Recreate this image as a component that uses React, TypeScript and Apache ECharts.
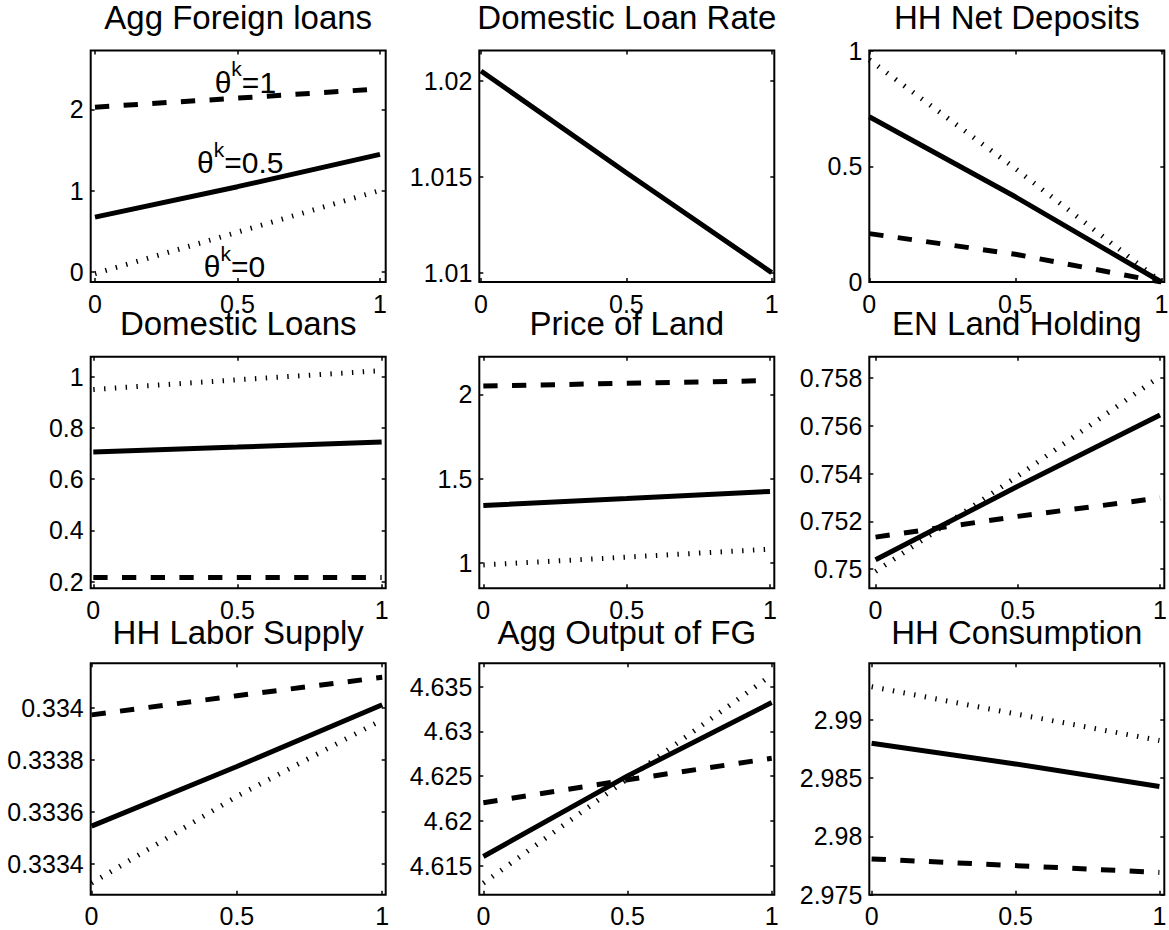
import React, { useEffect, useRef } from "react";
import * as echarts from "echarts";

const panelTitles = [
  "Agg Foreign loans",
  "Domestic Loan Rate",
  "HH Net Deposits",
  "Domestic Loans",
  "Price of Land",
  "EN Land Holding",
  "HH Labor Supply",
  "Agg Output of FG",
  "HH Consumption",
];

const xs = [0, 0.5, 1];
const xTicks = [0, 0.5, 1];

// dashed = theta^k = 1, solid = theta^k = 0.5, dotted = theta^k = 0
const foreignLoansDashed = [2.029, 2.14, 2.254];
const foreignLoansSolid = [0.676, 1.05, 1.447];
const foreignLoansDotted = [-0.02, 0.49, 1.004];

const loanRateSolid = [1.0205, 1.0152, 1.01];

const netDepositsDashed = [0.209, 0.12, 0.0];
const netDepositsSolid = [0.714, 0.368, 0.0];
const netDepositsDotted = [0.96, 0.49, 0.0];

const domLoansDashed = [0.216, 0.216, 0.216];
const domLoansSolid = [0.706, 0.725, 0.745];
const domLoansDotted = [0.95, 0.988, 1.0235];

const landPriceDashed = [2.049, 2.065, 2.081];
const landPriceSolid = [1.342, 1.383, 1.425];
const landPriceDotted = [0.99, 1.036, 1.083];

const landHoldDashed = [0.75134, 0.75221, 0.75298];
const landHoldSolid = [0.75039, 0.75347, 0.75646];
const landHoldDotted = [0.7499, 0.7539, 0.75808];

const laborDashed = [0.333974, 0.334048, 0.334119];
const laborSolid = [0.333545, 0.333775, 0.334013];
const laborDotted = [0.333325, 0.33366, 0.333955];

const outputDashed = [4.62204, 4.6246, 4.627];
const outputSolid = [4.61604, 4.62504, 4.63322];
const outputDotted = [4.61307, 4.6247, 4.6363];

const consDashed = [2.97807, 2.9775, 2.97692];
const consSolid = [2.98799, 2.98621, 2.98428];
const consDotted = [2.99282, 2.9905, 2.98822];

const xMins = [-0.015, -0.006, 0, -0.009, -0.014, -0.022, -0.003, -0.014, -0.008];
const xMaxs = [1.02, 1.009, 1.01, 1.014, 1.015, 1.015, 1.012, 1.009, 1.017];
const yMins = [-0.123, 1.00951, 0, 0.174, 0.852, 0.7492, 0.33328, 4.61177, 2.975];
const yMaxs = [2.726, 1.02157, 1, 1.078, 2.2225, 0.7589, 0.334173, 4.6376, 2.99483];
const yTicks = [
  [0, 1, 2],
  [1.01, 1.015, 1.02],
  [0, 0.5, 1],
  [0.2, 0.4, 0.6, 0.8, 1],
  [1, 1.5, 2],
  [0.75, 0.752, 0.754, 0.756, 0.758],
  [0.3334, 0.3336, 0.3338, 0.334],
  [4.615, 4.62, 4.625, 4.63, 4.635],
  [2.975, 2.98, 2.985, 2.99],
];

type Kind = "dashed" | "solid" | "dotted";
const panelSeries: { kind: Kind; values: number[] }[][] = [
  [
    { kind: "dashed", values: foreignLoansDashed },
    { kind: "solid", values: foreignLoansSolid },
    { kind: "dotted", values: foreignLoansDotted },
  ],
  [{ kind: "solid", values: loanRateSolid }],
  [
    { kind: "dashed", values: netDepositsDashed },
    { kind: "solid", values: netDepositsSolid },
    { kind: "dotted", values: netDepositsDotted },
  ],
  [
    { kind: "dashed", values: domLoansDashed },
    { kind: "solid", values: domLoansSolid },
    { kind: "dotted", values: domLoansDotted },
  ],
  [
    { kind: "dashed", values: landPriceDashed },
    { kind: "solid", values: landPriceSolid },
    { kind: "dotted", values: landPriceDotted },
  ],
  [
    { kind: "dashed", values: landHoldDashed },
    { kind: "solid", values: landHoldSolid },
    { kind: "dotted", values: landHoldDotted },
  ],
  [
    { kind: "dashed", values: laborDashed },
    { kind: "solid", values: laborSolid },
    { kind: "dotted", values: laborDotted },
  ],
  [
    { kind: "dashed", values: outputDashed },
    { kind: "solid", values: outputSolid },
    { kind: "dotted", values: outputDotted },
  ],
  [
    { kind: "dashed", values: consDashed },
    { kind: "solid", values: consSolid },
    { kind: "dotted", values: consDotted },
  ],
];

// annotations in panel 1 (data coordinates)
const annotX = [0.42, 0.358, 0.382];
const annotY = [2.39, 1.397, 0.119];
const annotText = ["=1", "=0.5", "=0"];

const FONT = "'Liberation Sans', Arial, Helvetica, sans-serif";

export default function App() {
  const ref = useRef<HTMLDivElement>(null);
  useEffect(() => {
    if (!ref.current) return;
    const chart = echarts.init(ref.current, null, { renderer: "svg" });
    const GRID_LEFTS = [90.7, 479.3, 869.3];
    const GRID_TOPS = [50.5, 356.7, 663.3];
    const GRID_W = 295;
    const GRID_H = 231.5;
    const TITLE_Y = [17.5, 323.6, 632.6];

    const grid: any[] = [];
    const xAxis: any[] = [];
    const yAxis: any[] = [];
    const series: any[] = [];
    const graphic: any[] = [];
    const tick = { show: true, inside: true, length: 4, lineStyle: { color: "#000", width: 1.5 } };
    const lbl = { color: "#000", fontSize: 25, fontFamily: FONT };
    const fmt = (v: number) => `${+Number(v).toFixed(6)}`;

    for (let i = 0; i < 9; i++) {
      const r = Math.floor(i / 3);
      const c = i % 3;
      grid.push({
        left: GRID_LEFTS[c],
        top: GRID_TOPS[r],
        width: GRID_W,
        height: GRID_H,
        show: true,
        borderColor: "#000",
        borderWidth: 2,
        backgroundColor: "transparent",
        containLabel: false,
        outerBoundsMode: "none",
      });
      const xBase = {
        type: "value",
        gridIndex: i,
        min: xMins[i],
        max: xMaxs[i],
        axisLine: { show: false, onZero: false },
        splitLine: { show: false },
        axisTick: { ...tick, customValues: xTicks },
      };
      xAxis.push({
        ...xBase,
        position: "bottom",
        axisLabel: { ...lbl, customValues: xTicks, margin: 9, formatter: fmt },
      });
      xAxis.push({ ...xBase, position: "top", axisLabel: { show: false } });
      const yBase = {
        type: "value",
        gridIndex: i,
        min: yMins[i],
        max: yMaxs[i],
        axisLine: { show: false, onZero: false },
        splitLine: { show: false },
        axisTick: { ...tick, customValues: yTicks[i] },
      };
      yAxis.push({
        ...yBase,
        position: "left",
        axisLabel: { ...lbl, customValues: yTicks[i], margin: 7, formatter: fmt },
      });
      yAxis.push({ ...yBase, position: "right", axisLabel: { show: false } });

      panelSeries[i].forEach((s) => {
        series.push({
          type: "line",
          xAxisIndex: 2 * i,
          yAxisIndex: 2 * i,
          data: xs.map((x, k) => [x, s.values[k]]),
          symbol: "none",
          showSymbol: false,
          silent: true,
          lineStyle: {
            color: "#000",
            width: 5,
            type: s.kind === "solid" ? "solid" : s.kind === "dashed" ? [14.3, 14.4] : [1.4, 9.4],
            cap: "butt",
          },
        });
      });

      graphic.push({
        type: "text",
        x: GRID_LEFTS[c] + GRID_W / 2,
        y: TITLE_Y[r],
        style: {
          text: panelTitles[i],
          fill: "#000",
          fontSize: 33,
          lineHeight: 34,
          fontFamily: FONT,
          align: "center",
          verticalAlign: "middle",
        },
      });
    }

    chart.setOption({
      animation: false,
      backgroundColor: "#fff",
      grid,
      xAxis,
      yAxis,
      series,
      graphic,
    });

    const annots = annotText.map((t, k) => {
      const p = chart.convertToPixel({ gridIndex: 0 } as any, [annotX[k], annotY[k]]) as number[];
      return {
        type: "text",
        x: p[0],
        y: p[1],
        z: 100,
        style: {
          text: `{t|θ}{s|k}{t|${t}}`,
          fill: "#000",
          align: "left",
          verticalAlign: "middle",
          rich: {
            t: { fontSize: 30, fontFamily: FONT, fill: "#000", verticalAlign: "top", padding: [9, 0, 0, 0] },
            s: { fontSize: 21, fontFamily: FONT, fill: "#000", verticalAlign: "top" },
          },
        },
      };
    });
    chart.setOption({ graphic: [...graphic, ...annots] });

    return () => chart.dispose();
  }, []);
  return (
    <div
      ref={ref}
      style={{ position: "absolute", left: 0, top: 0, width: 1169, height: 930, background: "#fff" }}
    />
  );
}
